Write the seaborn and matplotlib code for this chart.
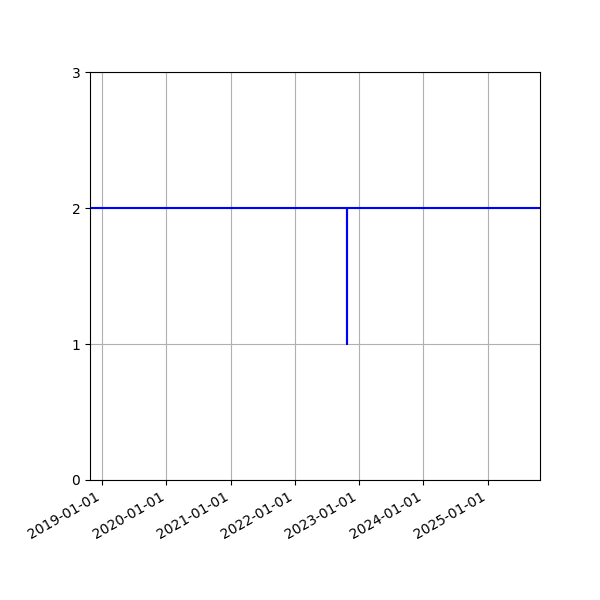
import matplotlib
matplotlib.use("Agg")
import matplotlib.pyplot as plt
import matplotlib.dates as mdates
import seaborn as sns
import pandas as pd

dates = ["2018-10-24", "2022-10-24", "2022-10-24", "2022-10-24", "2025-10-24"]
values = [2, 2, 1, 2, 2]
y_ticks = [0, 1, 2, 3]

df = pd.DataFrame({"date": pd.to_datetime(dates), "value": values})

fig, ax = plt.subplots(figsize=(6, 6), dpi=100)
sns.lineplot(data=df, x="date", y="value", ax=ax, estimator=None, sort=False,
             color="blue", linewidth=1.5)
ax.set_xlim(df["date"].min(), df["date"].max())
ax.set_ylim(0, 3)
ax.set_yticks(y_ticks)
ax.xaxis.set_major_locator(mdates.YearLocator())
ax.xaxis.set_major_formatter(mdates.DateFormatter("%Y-%m-%d"))
ax.grid(True)
ax.set_xlabel("")
ax.set_ylabel("")
fig.autofmt_xdate()
fig.subplots_adjust(left=0.15, right=0.9, top=0.88, bottom=0.2)
fig.savefig("out.png", dpi=100)
